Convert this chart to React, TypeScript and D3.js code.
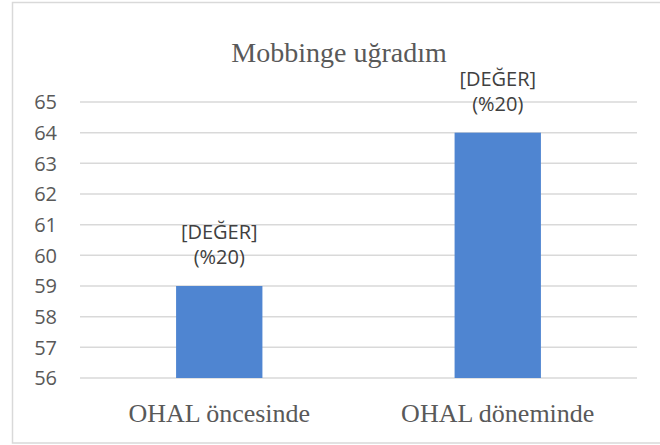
import React, { useEffect, useRef } from 'react';
import * as d3 from 'd3';

const categories = ['OHAL öncesinde', 'OHAL döneminde'];
const values = [59, 64];
const labelLines = ['[DEĞER]', '(%20)'];
const yTicks = [56, 57, 58, 59, 60, 61, 62, 63, 64, 65];
const title = 'Mobbinge uğradım';

const width = 660;
const height = 445;

const MobbingChart: React.FC = () => {
  const svgRef = useRef<SVGSVGElement>(null);

  useEffect(() => {
    if (!svgRef.current) return;
    const svg = d3.select(svgRef.current);
    svg.selectAll('*').remove();

    const left = 80, right = 637, top = 102, bottom = 378;
    const textColor = '#595959';
    const sans = '"Open Sans", "Noto Sans", sans-serif';
    const serif = '"Liberation Serif", "Times New Roman", serif';

    svg.append('rect')
      .attr('width', width).attr('height', height)
      .attr('fill', '#fff');

    // chart frame (right edge runs off the picture)
    svg.append('rect')
      .attr('x', 12.5).attr('y', 2.5)
      .attr('width', 700).attr('height', 440.5)
      .attr('fill', 'none')
      .attr('stroke', '#d9d9d9')
      .attr('stroke-width', 1.5);

    const x = d3.scaleBand<string>()
      .domain(categories)
      .range([left, right])
      .paddingInner(0.69)
      .paddingOuter(0.345);

    const y = d3.scaleLinear()
      .domain([56, 65])
      .range([bottom, top]);

    // Grid
    svg.append('g')
      .selectAll('line')
      .data(yTicks)
      .join('line')
      .attr('x1', left).attr('x2', right)
      .attr('y1', d => y(d)).attr('y2', d => y(d))
      .attr('stroke', '#d9d9d9')
      .attr('stroke-width', 1.5);

    // Y tick labels
    svg.append('g')
      .selectAll('text')
      .data(yTicks)
      .join('text')
      .attr('x', 57)
      .attr('y', d => y(d))
      .attr('dy', '0.36em')
      .attr('text-anchor', 'end')
      .style('font-family', sans)
      .style('font-size', '20px')
      .style('fill', textColor)
      .text(d => d);

    // Bars
    svg.append('g')
      .selectAll('rect')
      .data(values)
      .join('rect')
      .attr('x', (d, i) => x(categories[i])!)
      .attr('y', d => y(d))
      .attr('width', x.bandwidth())
      .attr('height', d => y(56) - y(d))
      .attr('fill', '#4f85d1');

    // Data labels
    const labels = svg.append('g')
      .selectAll('text')
      .data(values)
      .join('text')
      .attr('x', (d, i) => x(categories[i])! + x.bandwidth() / 2)
      .attr('y', d => y(d) - 47)
      .attr('text-anchor', 'middle')
      .style('font-family', sans)
      .style('font-size', '20px')
      .style('fill', '#404040');

    labels.each(function () {
      const t = d3.select(this);
      labelLines.forEach((line, j) => {
        t.append('tspan')
          .attr('x', t.attr('x'))
          .attr('dy', j === 0 ? 0 : 25)
          .text(line);
      });
    });

    // Category labels
    svg.append('g')
      .selectAll('text')
      .data(categories)
      .join('text')
      .attr('x', d => x(d)! + x.bandwidth() / 2)
      .attr('y', 422)
      .attr('text-anchor', 'middle')
      .style('font-family', serif)
      .style('font-size', '26px')
      .style('fill', textColor)
      .text(d => d);

    // Title
    svg.append('text')
      .attr('x', 339)
      .attr('y', 62)
      .attr('text-anchor', 'middle')
      .style('font-family', serif)
      .style('font-size', '28px')
      .style('fill', textColor)
      .text(title);
  }, []);

  return (
    <svg
      ref={svgRef}
      width={width}
      height={height}
      style={{ position: 'absolute', left: 0, top: 0, display: 'block' }}
    />
  );
};

export default function App() {
  return <MobbingChart />;
}
